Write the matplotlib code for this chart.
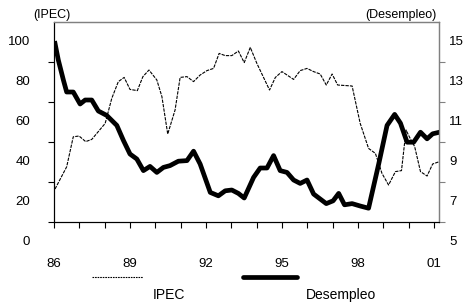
import matplotlib
matplotlib.use("Agg")
import matplotlib.pyplot as plt
import matplotlib.transforms as mtransforms
from matplotlib.lines import Line2D

plt.rcParams['font.family'] = ['Liberation Sans', 'DejaVu Sans']
plt.rcParams['font.size'] = 9.5

# IPEC index (left axis)
ipec_t = [1986.04, 1986.50, 1986.76, 1986.99, 1987.25, 1987.49, 1988.02, 1988.28,
          1988.54, 1988.77, 1989.00, 1989.29, 1989.51, 1989.75, 1990.06, 1990.26,
          1990.49, 1990.78, 1990.98, 1991.25, 1991.51, 1991.77, 1992.04, 1992.30,
          1992.52, 1992.76, 1993.02, 1993.28, 1993.51, 1993.75, 1994.01, 1994.51,
          1994.74, 1995.00, 1995.46, 1995.72, 1995.99, 1996.25, 1996.51, 1996.75,
          1996.98, 1997.20, 1997.77, 1998.09, 1998.42, 1998.69, 1998.95, 1999.21,
          1999.48, 1999.72, 1999.90, 2000.03, 2000.24, 2000.47, 2000.73, 2000.95,
          2001.22]
ipec = [26.5, 37.6, 52.6, 53.0, 50.2, 51.3, 59.3, 71.8,
        80.2, 82.3, 76.3, 75.7, 82.7, 86.0, 81.0, 72.7,
        54.0, 66.0, 82.3, 82.7, 80.2, 83.5, 85.7, 86.8,
        94.3, 93.2, 93.2, 95.5, 89.7, 97.3, 89.3, 76.0,
        82.3, 85.2, 81.3, 85.7, 86.8, 85.2, 84.0, 78.5,
        84.0, 78.5, 78.0, 59.3, 46.8, 44.3, 34.3, 28.5,
        35.2, 35.7, 56.0, 52.6, 47.7, 35.2, 33.0, 39.0,
        40.2]

# Desempleo (right axis)
des_t = [1986.04, 1986.17, 1986.37, 1986.50, 1986.76, 1987.03, 1987.23, 1987.49,
         1987.75, 1988.08, 1988.48, 1988.74, 1989.00, 1989.27, 1989.53, 1989.79,
         1990.06, 1990.32, 1990.58, 1990.91, 1991.25, 1991.51, 1991.77, 1992.17,
         1992.49, 1992.76, 1993.02, 1993.28, 1993.51, 1993.88, 1994.14, 1994.41,
         1994.67, 1994.93, 1995.20, 1995.46, 1995.72, 1995.99, 1996.25, 1996.51,
         1996.75, 1997.02, 1997.24, 1997.47, 1997.77, 1998.09, 1998.42, 1998.82,
         1999.15, 1999.45, 1999.68, 1999.94, 2000.20, 2000.47, 2000.73, 2000.95,
         2001.22]
desempleo = [14.93, 14.1, 13.1, 12.5, 12.5, 11.9, 12.1, 12.1,
             11.55, 11.33, 10.83, 10.08, 9.4, 9.15, 8.57, 8.78,
             8.48, 8.73, 8.82, 9.04, 9.07, 9.54, 8.9, 7.48,
             7.31, 7.56, 7.6, 7.43, 7.2, 8.23, 8.7, 8.7,
             9.32, 8.57, 8.48, 8.1, 7.93, 8.1, 7.4, 7.15,
             6.92, 7.06, 7.43, 6.86, 6.92, 6.8, 6.69, 8.9,
             10.83, 11.38, 10.94, 9.99, 9.99, 10.49, 10.16, 10.41,
             10.49]

years = list(range(1986, 2002))
left_labels = [0, 20, 40, 60, 80, 100]
right_labels = [5, 7, 9, 11, 13, 15]

fig = plt.figure(figsize=(4.66, 3.04), dpi=100)
ax = fig.add_axes([0.1159, 0.2697, 0.8261, 0.6579])
ax2 = ax.twinx()

ax.plot(ipec_t, ipec, color="black", lw=0.8, dashes=(3, 1))
ax2.plot(des_t, desempleo, color="black", lw=3.4, solid_joinstyle="round")

ax.set_xlim(1986, 2001.2)
ax.set_ylim(10, 110)
ax2.set_ylim(6, 16)

# every year gets a tick, every third one a label
ax.set_xticks(years)
ax.set_xticklabels([str(y)[2:] if i % 3 == 0 else "" for i, y in enumerate(years)])
ax.tick_params(axis="x", direction="out", length=4, pad=22, width=0.8)
ax.set_yticks([10, 30, 50, 70, 90])
ax.set_yticklabels([])
ax.tick_params(axis="y", direction="out", length=4, width=0.8)
ax2.set_yticks([6, 8, 10, 12, 14])
ax2.set_yticklabels([])
ax2.tick_params(axis="y", direction="out", length=4, width=0.8, colors="#808080")

for s in ["left", "bottom"]:
    ax.spines[s].set_color("black")
    ax.spines[s].set_linewidth(0.8)
for s in ["top", "right"]:
    ax2.spines[s].set_color("#808080")
    ax2.spines[s].set_linewidth(0.9)

# axis value labels, shifted off the tick marks as in the original
tl = mtransforms.blended_transform_factory(ax.transAxes, ax.transData)
for v in left_labels:
    ax.text(-0.062, v, str(v), transform=tl, ha="right", va="center", clip_on=False)
tr = mtransforms.blended_transform_factory(ax2.transAxes, ax2.transData)
for v in right_labels:
    ax2.text(1.026, v, str(v), transform=tr, ha="left", va="center", clip_on=False)

fig.text(52 / 466, 1 - 15 / 304, "(IPEC)", ha="center", va="center", fontsize=9)
fig.text(401 / 466, 1 - 15 / 304, "(Desempleo)", ha="center", va="center", fontsize=9)

# legend
fig.add_artist(Line2D([92 / 466, 143 / 466], [1 - 277 / 304] * 2, color="black",
                      lw=0.8, dashes=(1.5, 0.8)))
fig.add_artist(Line2D([243 / 466, 297 / 466], [1 - 277 / 304] * 2, color="black",
                      lw=3.4, solid_capstyle="round"))
fig.text(169 / 466, 1 - 295 / 304, "IPEC", ha="center", va="center", fontsize=10)
fig.text(341 / 466, 1 - 295 / 304, "Desempleo", ha="center", va="center", fontsize=10)

fig.savefig("out.png", dpi=100)
